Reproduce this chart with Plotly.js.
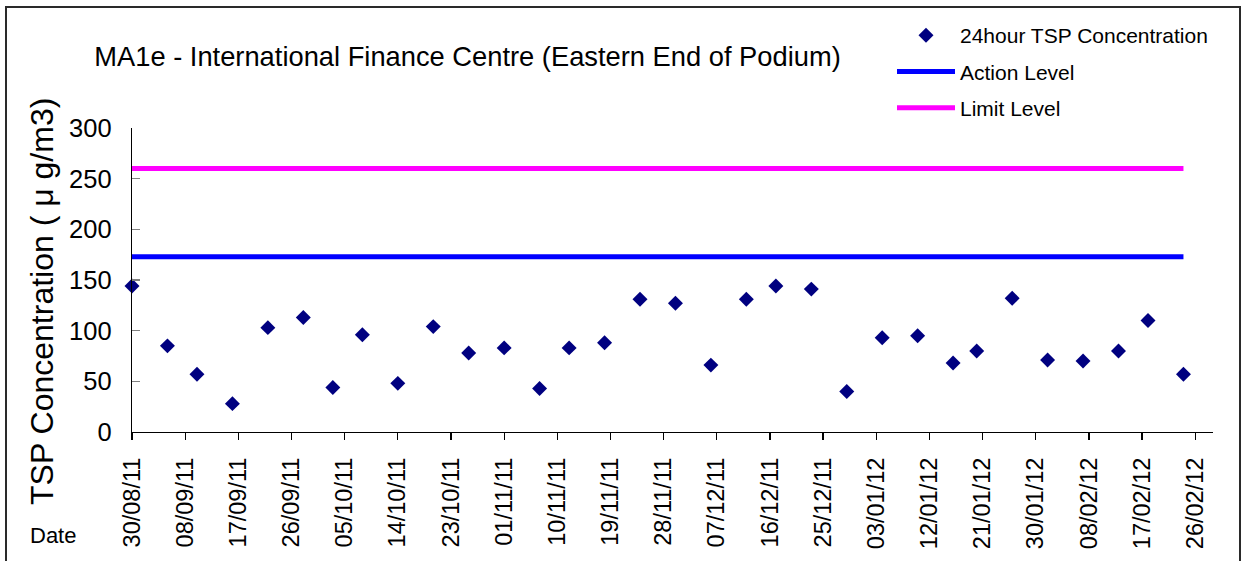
<!DOCTYPE html>
<html>
<head>
<meta charset="utf-8">
<script src="https://cdn.plot.ly/plotly-3.0.1.min.js"></script>
<style>
  html, body { margin: 0; padding: 0; background: #fff; }
  #chart { position: absolute; left: 0; top: 0; width: 1247px; height: 561px; }
  #frame { position: absolute; left: 5px; top: 6px; width: 1236px; height: 600px;
           border: 2px solid #2a2a2a; pointer-events: none; box-sizing: border-box; }
</style>
</head>
<body>
<div id="chart"></div>
<div id="frame"></div>
<script>
// ---- data ----
const sampleDates = ['2011-08-30','2011-09-05','2011-09-10','2011-09-16','2011-09-22','2011-09-28',
  '2011-10-03','2011-10-08','2011-10-14','2011-10-20','2011-10-26','2011-11-01','2011-11-07',
  '2011-11-12','2011-11-18','2011-11-24','2011-11-30','2011-12-06','2011-12-12','2011-12-17',
  '2011-12-23','2011-12-29','2012-01-04','2012-01-10','2012-01-16','2012-01-20','2012-01-26',
  '2012-02-01','2012-02-07','2012-02-13','2012-02-18','2012-02-24'];
const tspValues = [144,85,57,28,103,113,44,96,48,104,78,83,43,83,88,131,127,66,131,144,
  141,40,93,95,68,80,132,71,70,80,110,57];
const levelDates = ['2011-08-30','2012-02-24'];
const actionLevel = [173, 173];
const limitLevel = [260, 260];
const seriesNames = ['24hour TSP Concentration', 'Action Level', 'Limit Level'];
const chartTitle = 'MA1e - International Finance Centre (Eastern End of Podium)';
const yTitle = 'TSP Concentration ( \u03bc g/m3)';
const xLabel = 'Date';

const FONT = 'Arial, "Liberation Sans", sans-serif';
const xRange = ['2011-08-30', '2012-02-29'];
const tickStep = 9 * 86400000;

const traces = [
  { x: sampleDates, y: tspValues, type: 'scatter', mode: 'markers', name: seriesNames[0],
    legendgroup: 'a', cliponaxis: false,
    marker: { symbol: 'diamond', size: 11.5, color: '#000080' } },
  { x: levelDates, y: actionLevel, type: 'scatter', mode: 'lines', name: seriesNames[1],
    legendgroup: 'b', line: { color: '#0000FF', width: 5 } },
  { x: levelDates, y: limitLevel, type: 'scatter', mode: 'lines', name: seriesNames[2],
    legendgroup: 'c', line: { color: '#FF00FF', width: 5 } }
];

const layout = {
  width: 1247, height: 561,
  margin: { l: 132, r: 34, t: 128, b: 129, autoexpand: false },
  paper_bgcolor: '#fff', plot_bgcolor: '#fff',
  font: { family: FONT, color: '#000' },
  title: { text: chartTitle, font: { size: 27.3, family: FONT, color: '#000' },
           xref: 'container', x: 467.5/1247, xanchor: 'center',
           yref: 'container', y: 1 - 56/561, yanchor: 'middle' },
  showlegend: true,
  legend: { xref: 'container', yref: 'container', x: 892/1247, y: 1 - 15/561,
            xanchor: 'left', yanchor: 'top', traceorder: 'grouped', tracegroupgap: 6,
            itemwidth: 58, font: { size: 21, family: FONT, color: '#000' },
            bgcolor: 'rgba(0,0,0,0)', borderwidth: 0 },
  xaxis: { type: 'date', range: xRange, tick0: '2011-08-30', dtick: tickStep,
           tickformat: '%d/%m/%y', tickangle: -90, ticks: 'outside', ticklen: 7,
           tickwidth: 1.3, tickcolor: '#000', showline: true, linecolor: '#000', linewidth: 1.3,
           showgrid: false, zeroline: false, ticklabelstandoff: 8,
           tickfont: { size: 23.5, family: FONT, color: '#000' }, fixedrange: true },
  xaxis2: { type: 'date', range: xRange, tick0: '2011-08-30', dtick: tickStep,
            overlaying: 'x', anchor: 'y', side: 'bottom', ticks: 'inside', ticklen: 7,
            tickwidth: 1.3, tickcolor: '#000', showticklabels: false, showline: false,
            showgrid: false, zeroline: false, fixedrange: true },
  yaxis: { range: [0, 300], dtick: 50, ticks: 'inside', ticklen: 8, tickwidth: 1.3,
           tickcolor: '#808080', showline: true, linecolor: '#000', linewidth: 1.3,
           showgrid: false, zeroline: false, ticklabelstandoff: 14,
           tickfont: { size: 25.5, family: FONT, color: '#000' }, fixedrange: true },
  annotations: [
    { text: yTitle, xref: 'paper', yref: 'paper', x: (42 - 132) / 1081, y: (432 - 302) / 304,
      xanchor: 'center', yanchor: 'middle', textangle: -90, showarrow: false,
      font: { size: 32, family: FONT, color: '#000' } },
    { text: xLabel, xref: 'paper', yref: 'paper', x: (28 - 132) / 1081, y: (432 - 535) / 304,
      xanchor: 'left', yanchor: 'middle', showarrow: false,
      font: { size: 22, family: FONT, color: '#000' } }
  ]
};

Plotly.newPlot('chart', traces, layout, { displayModeBar: false, staticPlot: true });
</script>
</body>
</html>
